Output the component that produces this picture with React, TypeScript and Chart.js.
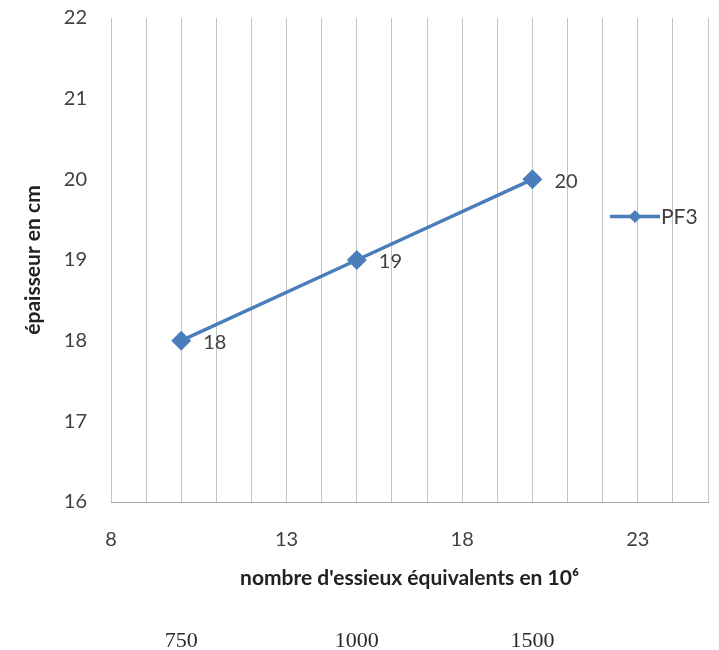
import { useEffect, useRef } from "react";
import { Chart, registerables } from "chart.js";

Chart.register(...registerables);

// essieux (10^6) vs épaisseur (cm)
const essieux = [10, 15, 20];
const epaisseur = [18, 19, 20];
const seriesName = "PF3";
// second row under the axis title
const trafic = ["750", "1000", "1500"];

const xMin = 8;
const xMax = 25;
const xLabelStep = 5;
const yMin = 16;
const yMax = 22;

const blue = "#4a7ebb";
const textColor = "#404040";
const gridColor = "#c4c4c4";
const sans = "Lato, 'Open Sans', sans-serif";

const pointLabels = {
  id: "pointLabels",
  afterDatasetsDraw(chart: Chart) {
    const { ctx } = chart;
    const meta = chart.getDatasetMeta(0);
    ctx.save();
    ctx.font = `20px ${sans}`;
    ctx.fillStyle = textColor;
    ctx.textAlign = "left";
    ctx.textBaseline = "middle";
    meta.data.forEach((pt, i) => {
      ctx.fillText(String(epaisseur[i]), pt.x + 22, pt.y + 2);
    });
    ctx.restore();
  },
};

const sideLegend = {
  id: "sideLegend",
  afterDraw(chart: Chart) {
    const { ctx, chartArea } = chart;
    const x = chartArea.right - 98;
    const y = chartArea.top + chartArea.height * 0.41;
    ctx.save();
    ctx.strokeStyle = blue;
    ctx.lineWidth = 3.5;
    ctx.beginPath();
    ctx.moveTo(x, y);
    ctx.lineTo(x + 50, y);
    ctx.stroke();
    ctx.fillStyle = blue;
    ctx.beginPath();
    ctx.moveTo(x + 25, y - 6.5);
    ctx.lineTo(x + 31.5, y);
    ctx.lineTo(x + 25, y + 6.5);
    ctx.lineTo(x + 18.5, y);
    ctx.closePath();
    ctx.fill();
    ctx.font = `21px ${sans}`;
    ctx.fillStyle = textColor;
    ctx.textBaseline = "middle";
    ctx.fillText(seriesName, x + 51, y + 1);
    ctx.restore();
  },
};

export default function App() {
  const canvasRef = useRef<HTMLCanvasElement>(null);
  const chartRef = useRef<Chart | null>(null);

  useEffect(() => {
    if (!canvasRef.current) return;
    if (chartRef.current) chartRef.current.destroy();

    const ctx = canvasRef.current.getContext("2d")!;
    chartRef.current = new Chart(ctx, {
      type: "line",
      data: {
        datasets: [
          {
            label: seriesName,
            data: essieux.map((x, i) => ({ x, y: epaisseur[i] })),
            borderColor: blue,
            backgroundColor: blue,
            borderWidth: 3.5,
            pointStyle: "rectRot",
            pointRadius: 7.5,
            pointHoverRadius: 7.5,
            tension: 0,
            xAxisID: "x",
          },
        ],
      },
      options: {
        animation: false,
        responsive: true,
        maintainAspectRatio: false,
        layout: { padding: { top: 18, right: 8, left: 0, bottom: 0 } },
        plugins: {
          legend: { display: false },
          tooltip: { enabled: false },
        },
        scales: {
          x: {
            type: "linear",
            position: "bottom",
            min: xMin,
            max: xMax,
            grid: { color: gridColor, lineWidth: 1, drawTicks: false },
            border: { color: "#a6a6a6" },
            ticks: {
              stepSize: 1,
              autoSkip: false,
              maxRotation: 0,
              padding: 26,
              color: textColor,
              font: { family: sans, size: 20 },
              callback: (v) =>
                (Number(v) - xMin) % xLabelStep === 0 ? String(v) : "",
            },
            title: {
              display: true,
              text: "nombre d'essieux équivalents en 10⁶",
              color: "#222",
              font: { family: sans, size: 21, weight: "bold" },
              padding: { top: 0, bottom: 7 },
            },
            afterFit: (scale) => {
              scale.height = 96;
              scale.paddingLeft = 0;
              scale.paddingRight = 0;
            },
          },
          x2: {
            type: "linear",
            position: "bottom",
            min: xMin,
            max: xMax,
            grid: { display: false, drawTicks: false },
            border: { display: false },
            afterBuildTicks: (scale) => {
              scale.ticks = essieux.map((value) => ({ value }));
            },
            ticks: {
              autoSkip: false,
              maxRotation: 0,
              padding: 30,
              color: "#2a2a2a",
              font: { family: "'Liberation Serif', 'DejaVu Serif', serif", size: 22 },
              callback: (v) => {
                const i = essieux.indexOf(Number(v));
                return i >= 0 ? trafic[i] : "";
              },
            },
            afterFit: (scale) => {
              scale.height = 52;
              scale.paddingLeft = 0;
              scale.paddingRight = 0;
            },
          },
          y: {
            min: yMin,
            max: yMax,
            grid: { display: false, drawTicks: false },
            border: { display: false },
            ticks: {
              stepSize: 1,
              padding: 24,
              color: textColor,
              font: { family: sans, size: 20 },
            },
            title: {
              display: true,
              text: "épaisseur en cm",
              color: "#222",
              font: { family: sans, size: 21, weight: "bold" },
              padding: { top: 21, bottom: 0 },
            },
            afterFit: (scale) => {
              scale.width = 111;
              scale.paddingTop = 0;
              scale.paddingBottom = 0;
            },
          },
        },
      },
      plugins: [pointLabels, sideLegend],
    });

    return () => {
      chartRef.current?.destroy();
      chartRef.current = null;
    };
  }, []);

  return (
    <div
      style={{
        position: "fixed",
        left: 0,
        top: 0,
        width: 719,
        height: 650,
        background: "#fff",
      }}
    >
      <canvas ref={canvasRef} />
    </div>
  );
}
